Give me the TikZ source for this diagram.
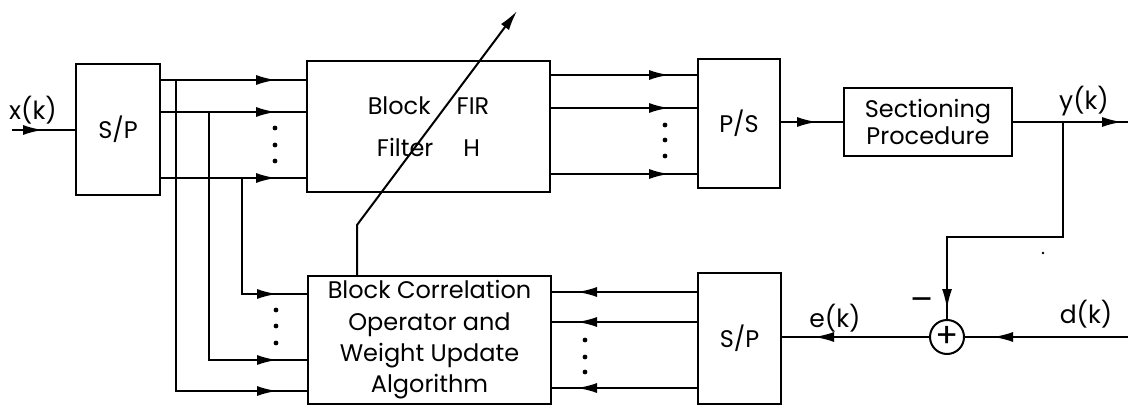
\documentclass[tikz,border=0pt]{standalone}
\usepackage{fontspec}
\setmainfont{Poppins}
\usetikzlibrary{arrows.meta,decorations.markings}
\begin{document}
\begin{tikzpicture}[x=0.5pt,y=-0.5pt, line width=1pt,
  blk/.style={draw, line width=1pt, inner sep=0pt, align=center, font=\fontsize{12}{14}\selectfont},
  arr/.style={postaction={decorate}, decoration={markings, mark=at position -#1 with {\arrow{Latex[length=10pt,width=5pt]}}}},
  arr/.default=14pt,
  lbl/.style={font=\fontsize{12.5}{14}\selectfont, inner sep=0pt},
  dotc/.style={radius=1.2pt}]
\useasboundingbox (0,0) rectangle (1128,406);
% blocks
\node[blk, minimum width=42pt, minimum height=65.5pt] (sp1) at (118,129.5) {S/P};
\node[blk, minimum width=121.5pt, minimum height=65.5pt] (fir) at (428.5,126.5) {Block\hspace{13pt}FIR\\[7pt]Filter\hspace{15pt}H};
\node[blk, minimum width=41pt, minimum height=64.5pt] (ps) at (739,123.5) {P/S};
\node[blk, minimum width=84pt, minimum height=34pt] (sec) at (928,122) {Sectioning\\[-0.5pt]Procedure};
\node[blk, minimum width=121.5pt, minimum height=64pt] (cor) at (429.5,340) {Block Correlation\\[1.7pt]Operator and\\[1.7pt]Weight Update\\[1.7pt]Algorithm};
\node[blk, minimum width=41.5pt, minimum height=65.5pt] (sp2) at (739.5,338.5) {S/P};
\node[draw, circle, line width=1pt, minimum size=17pt, inner sep=0pt, font=\fontsize{17}{17}\selectfont] (sum) at (947,337) {+};
% helper coordinates
\coordinate (xin) at (12,130);
\coordinate (r1) at (0,80);
\coordinate (r2) at (0,112);
\coordinate (r3) at (0,178);
\coordinate (v1) at (176,0);
\coordinate (v2) at (209,0);
\coordinate (v3) at (242,0);
\coordinate (c1) at (0,294);
\coordinate (c2) at (0,360);
\coordinate (c3) at (0,391);
\coordinate (o1) at (0,75);
\coordinate (o2) at (0,108);
\coordinate (o3) at (0,174);
\coordinate (b1) at (0,292);
\coordinate (b2) at (0,322);
\coordinate (b3) at (0,388);
\coordinate (yout) at (1128,122);
\coordinate (ytap) at (1063,122);
\coordinate (fb) at (1063,237);
\coordinate (din) at (1128,337);
\coordinate (bend) at (357,225);
\coordinate (tip) at (517,11);
% input
\draw[arr=16pt] (xin) -- (sp1.west |- xin);
% S/P -> FIR
\draw[arr=15pt] (sp1.east |- r1) -- (fir.west |- r1);
\draw[arr=15pt] (sp1.east |- r2) -- (fir.west |- r2);
\draw[arr=15pt] (sp1.east |- r3) -- (fir.west |- r3);
% taps to correlation block
\draw[arr=15pt] (v1 |- r1) |- (cor.west |- c3);
\draw[arr=15pt] (v2 |- r2) |- (cor.west |- c2);
\draw[arr=15pt] (v3 |- r3) |- (cor.west |- c1);
% FIR -> P/S
\draw[arr=14pt] (fir.east |- o1) -- (ps.west |- o1);
\draw[arr=14pt] (fir.east |- o2) -- (ps.west |- o2);
\draw[arr=14pt] (fir.east |- o3) -- (ps.west |- o3);
% P/S -> sectioning -> output
\draw[arr=13pt] (ps.east |- sec.west) -- (sec.west);
\draw[arr=3pt] (sec.east) -- (yout);
% feedback
\draw[arr=5pt] (ytap) -- (fb) -| (sum.north);
\draw[arr=14pt] (din) -- (sum.east);
\draw[arr=16pt] (sum.west) -- (sp2.east |- sum.west);
% S/P -> correlation
\draw[arr=12.5pt] (sp2.west |- b1) -- (cor.east |- b1);
\draw[arr=12.5pt] (sp2.west |- b2) -- (cor.east |- b2);
\draw[arr=12.5pt] (sp2.west |- b3) -- (cor.east |- b3);
% adaptation arrow
\draw[-{Latex[length=10pt,width=5pt]}] (bend |- cor.north) -- (bend) -- (tip);
% dots
\fill (275,128) circle[dotc] (275,145) circle[dotc] (275,161) circle[dotc];
\fill (276,310) circle[dotc] (276,326) circle[dotc] (276,343) circle[dotc];
\fill (665,125) circle[dotc] (665,140) circle[dotc] (665,156) circle[dotc];
\fill (585,340) circle[dotc] (585,357) circle[dotc] (585,372) circle[dotc];
\fill (1043,253) circle[radius=0.7pt];
% labels
\node[lbl] (lx) at (33,110) {x(k)};
\node[lbl] (ly) at (1084,101) {y(k)};
\node[lbl] (le) at (835,318) {e(k)};
\node[lbl] (ld) at (1086,314) {d(k)};
\node[lbl, font=\fontsize{17}{17}\selectfont] (lm) at (922,305) {–};
\end{tikzpicture}
\end{document}
